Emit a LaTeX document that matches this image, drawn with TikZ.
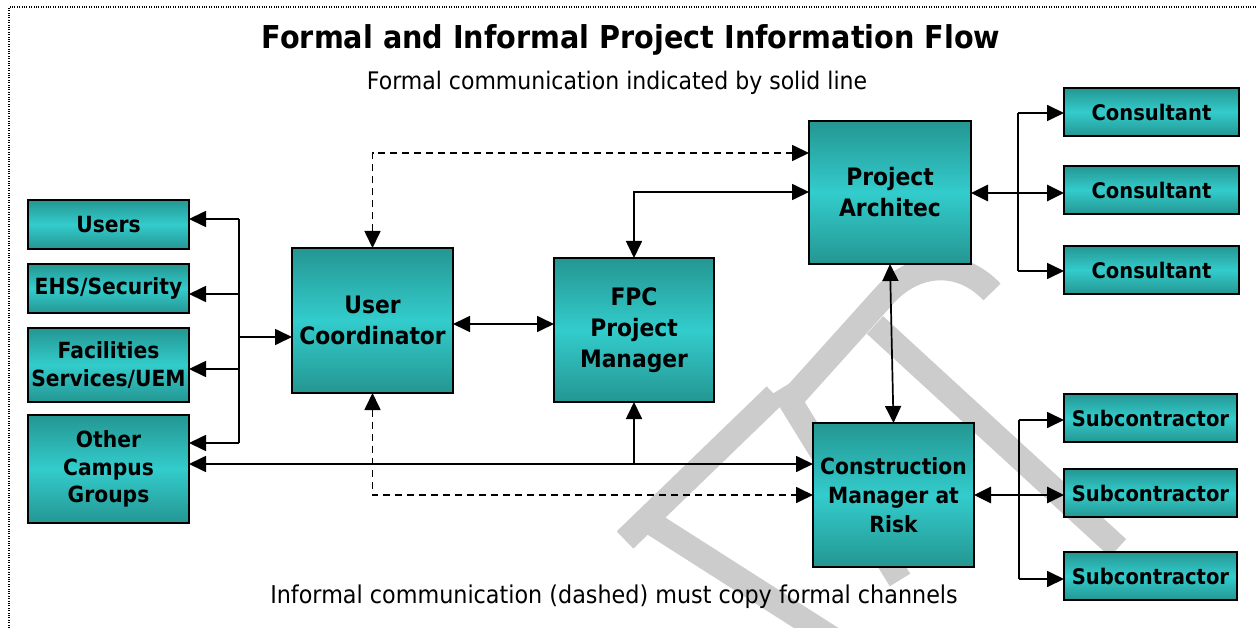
\documentclass[tikz,border=0pt]{standalone}
\usepackage{fontspec}
\setmainfont{DejaVu Sans}[FakeStretch=0.91]
\usetikzlibrary{arrows.meta}
\definecolor{tdark}{RGB}{36,150,146}
\definecolor{tlight}{RGB}{51,204,204}
\definecolor{wmark}{RGB}{204,204,204}
\tikzset{
  box/.style={draw=black, line width=2.2pt, top color=tdark, bottom color=tdark, middle color=tlight,
    align=center, inner sep=0pt, outer sep=0pt, anchor=north west},
  fbig/.style={font=\fontsize{24}{31}\selectfont\bfseries},
  fmid/.style={font=\fontsize{22.3}{27.6}\selectfont\bfseries},
  fsml/.style={font=\fontsize{21.5}{26}\selectfont\bfseries},
  tip/.tip={Triangle[length=17pt,width=16pt]},
  conn/.style={line width=1.7pt},
  arr/.style={conn, -tip},
  arrb/.style={conn, tip-tip},
  arrbt/.style={line width=2.8pt, tip-tip},
  dsh/.style={conn, dash pattern=on 7pt off 5pt, tip-tip},
  wm/.style={draw=wmark, line width=24pt},
}
\begin{document}
\begin{tikzpicture}[x=1pt,y=-1pt]
\useasboundingbox (0,0) rectangle (1257,628);
% frame
\draw[line width=1.1pt, dash pattern=on 1pt off 1.4pt, black] (9,640) -- (9,7) -- (1270,7);
% watermark
\draw[wm] (625,540) -- (775,395);
\draw[wm] (782,388) -- (900,580);
\draw[wm] (650,522) -- (835,640);
\draw[wm] (795,395) -- (885,295) .. controls (915,262) and (960,258) .. (992,292);
\draw[wm] (875,325) -- (1118,548);
% titles
\node (title) at (631,40) {\fontsize{31.5}{38}\selectfont\bfseries Formal and Informal Project Information Flow};
\node (sub) at (617,83) {\fontsize{24.2}{29}\selectfont Formal communication indicated by solid line};
\node (foot) at (614,597) {\fontsize{24.5}{29}\selectfont Informal communication (dashed) must copy formal channels};
% left boxes
\node[box, fmid, minimum width=161pt, minimum height=49pt] (Users) at (28,200) {Users};
\node[box, fmid, minimum width=161pt, minimum height=49pt] (EHS) at (28,264) {EHS/Security};
\node[box, fmid, minimum width=161pt, minimum height=74pt] (Fac) at (28,328) {Facilities\\Services/UEM};
\node[box, fmid, minimum width=161pt, minimum height=108pt] (Other) at (28,415) {Other\\Campus\\Groups};
% main boxes
\node[box, fbig, minimum width=161pt, minimum height=145pt] (UC) at (292,248) {User\\Coordinator};
\node[box, fbig, minimum width=160pt, minimum height=144pt] (FPC) at (554,258) {FPC\\Project\\Manager};
\node[box, fbig, minimum width=162pt, minimum height=143pt] (PA) at (809,121) {Project\\Architec};
\node[box, font=\fontsize{22.3}{28.7}\selectfont\bfseries, minimum width=161pt, minimum height=144pt] (CM) at (813,423) {Construction\\Manager at\\Risk};
% right boxes
\node[box, fsml, minimum width=175pt, minimum height=48pt] (C1) at (1064,88) {Consultant};
\node[box, fsml, minimum width=175pt, minimum height=48pt] (C2) at (1064,166) {Consultant};
\node[box, fsml, minimum width=175pt, minimum height=48pt] (C3) at (1064,246) {Consultant};
\node[box, fsml, minimum width=173pt, minimum height=48pt] (S1) at (1064,394) {Subcontractor};
\node[box, fsml, minimum width=173pt, minimum height=48pt] (S2) at (1064,469) {Subcontractor};
\node[box, fsml, minimum width=173pt, minimum height=48pt] (S3) at (1064,552) {Subcontractor};
% left bus
\coordinate (bL1) at (239,219);
\coordinate (bL2) at (239,294);
\coordinate (bL3) at (239,369);
\coordinate (bL4) at (239,443);
\coordinate (bLm) at (239,337);
\draw[conn] (bL1) -- (bL4);
\draw[arr] (bL1) -- (Users.east |- bL1);
\draw[arr] (bL2) -- (EHS.east |- bL2);
\draw[arr] (bL3) -- (Fac.east |- bL3);
\draw[arr] (bL4) -- (Other.east |- bL4);
\draw[arr] (bLm) -- (UC.west |- bLm);
% other <-> CM with branch to FPC
\coordinate (jy) at (0,464);
\coordinate (j) at (FPC.south |- jy);
\draw[arrb] (Other.east |- j) -- (CM.west |- j);
\draw[arr] (j) -- (FPC.south);
% UC <-> FPC
\coordinate (u) at (500,324);
\draw[arrb] (UC.east |- u) -- (FPC.west |- u);
% FPC <-> PA
\coordinate (p) at (700,192);
\draw[arrb] (FPC.north) |- (PA.west |- p);
% dashed
\coordinate (d1) at (600,153);
\coordinate (d2) at (600,495);
\draw[dsh] (UC.north) |- (PA.west |- d1);
\draw[dsh] (UC.south) |- (CM.west |- d2);
% PA <-> CM
\draw[arrb] (PA.south) -- (CM.north);
% consultants
\coordinate (bc1) at (1018,113);
\coordinate (bc2) at (1018,193);
\coordinate (bc3) at (1018,271);
\draw[conn] (bc1) -- (bc3);
\draw[arrbt] (PA.east |- bc2) -- (C2.west |- bc2);
\draw[arr] (bc1) -- (C1.west |- bc1);
\draw[arr] (bc3) -- (C3.west |- bc3);
% subcontractors
\coordinate (bs1) at (1019,420);
\coordinate (bs2) at (1019,495);
\coordinate (bs3) at (1019,579);
\draw[conn] (bs1) -- (bs3);
\draw[arrbt] (CM.east |- bs2) -- (S2.west |- bs2);
\draw[arr] (bs1) -- (S1.west |- bs1);
\draw[arr] (bs3) -- (S3.west |- bs3);
\end{tikzpicture}
\end{document}
